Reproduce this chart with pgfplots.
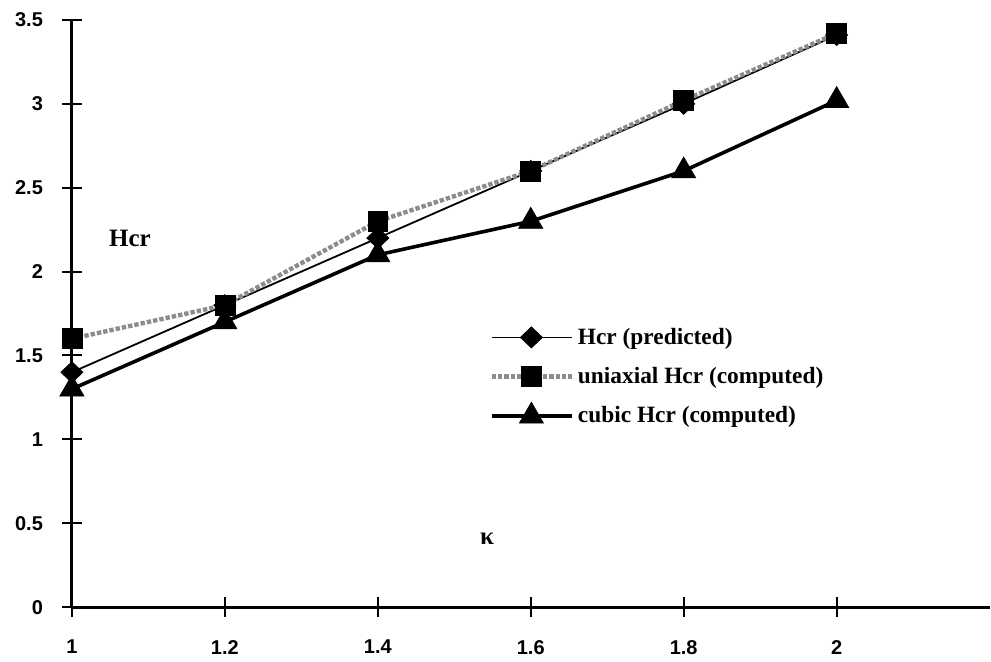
\documentclass[border=0pt]{standalone}
\usepackage{pgfplots}
\pgfplotsset{compat=1.18}
\usepackage{fontspec}
\setmainfont{Liberation Serif}
\newfontfamily\ticksans{Liberation Sans}
\begin{document}
\begin{tikzpicture}
\begin{axis}[scale only axis,width=459.5pt,height=294pt,
 xmin=1,xmax=2.2,ymin=0,ymax=3.5,
 axis lines=left,axis line style={line width=1.4pt,-},
 xtick={1,1.2,1.4,1.6,1.8,2},ytick={0,0.5,...,3.5},
 tick align=center,major tick length=10pt,tick style={line width=1pt,black},
 /pgf/number format/assume math mode=true,
 /pgf/number format/fixed,
 tick label style={font=\ticksans\bfseries\fontsize{10}{11}\selectfont},
 xticklabel style={yshift=-8pt},yticklabel style={xshift=-6pt},
 clip=false,
 legend style={draw=none,fill=none,at={(0.448,0.49)},anchor=north west,
  font=\bfseries\fontsize{11.7}{14}\selectfont,row sep=6pt,cells={anchor=west}},
 legend cell align=left,
 legend image code/.code={\draw[mark repeat=2,mark phase=2,#1] plot coordinates {(0cm,0cm)(0.7cm,0cm)(1.41cm,0cm)};}]
\addplot[black,line width=0.9pt,mark=diamond*,mark size=5.3pt,mark options={solid,line width=0.3pt,xscale=1.4}]
 coordinates {(1,1.4)(1.2,1.8)(1.4,2.2)(1.6,2.6)(1.8,3.0)(2,3.41)};
\addplot[black!45,line width=2.2pt,densely dotted,mark=square*,mark size=5pt,mark options={solid,black,fill=black,line width=0.3pt}]
 coordinates {(1,1.6)(1.2,1.8)(1.4,2.3)(1.6,2.6)(1.8,3.02)(2,3.42)};
\addplot[black,line width=1.8pt,mark=triangle*,mark size=7pt,mark options={solid,line width=0.3pt}]
 coordinates {(1,1.3)(1.2,1.7)(1.4,2.1)(1.6,2.3)(1.8,2.6)(2,3.02)};
\legend{Hcr (predicted),uniaxial Hcr (computed),cubic Hcr (computed)}
\node[font=\bfseries\fontsize{12.5}{14}\selectfont] at (axis cs:1.076,2.2) {Hcr};
\node[font=\bfseries\fontsize{12.5}{14}\selectfont] at (axis cs:1.543,0.405) {κ};
\path (rel axis cs:0,0) ++(-36pt,-27pt);
\path (rel axis cs:1,1) ++(0.5pt,10pt);
\end{axis}
\end{tikzpicture}
\end{document}
